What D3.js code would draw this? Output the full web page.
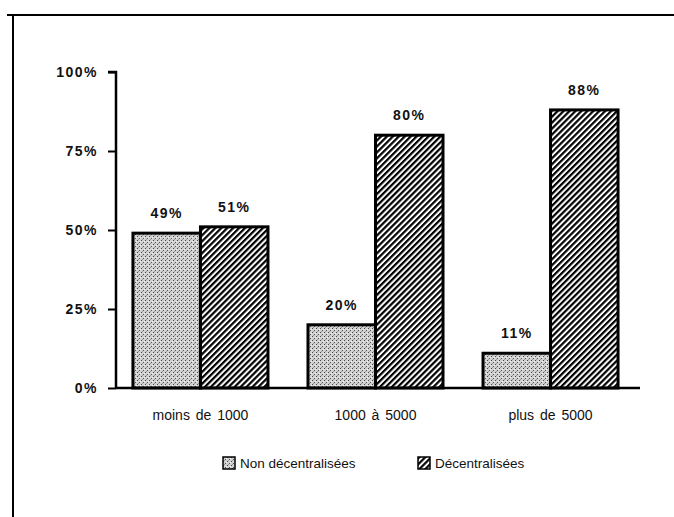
<!DOCTYPE html>
<html>
<head>
<meta charset="utf-8">
<script src="https://cdn.jsdelivr.net/npm/d3@7"></script>
<style>
  body { margin: 0; background: #fff; }
  text { font-family: "Liberation Sans", Arial, sans-serif; fill: #111; }
</style>
</head>
<body>
<svg class="container"></svg>
<script>
const categories = ["moins de 1000", "1000 à 5000", "plus de 5000"];
const series = ["Non décentralisées", "Décentralisées"];
const nonValues = [49, 20, 11];
const decValues = [51, 80, 88];
const yTicks = [0, 25, 50, 75, 100];

const width = 674;
const height = 517;

const svg = d3.select(".container").attr("width", width).attr("height", height);

// patterns
const defs = svg.append("defs");
const dots = defs.append("pattern")
  .attr("id", "dots").attr("patternUnits", "userSpaceOnUse")
  .attr("width", 4).attr("height", 4);
dots.append("rect").attr("width", 4).attr("height", 4).attr("fill", "#d2d2d2");
dots.append("rect").attr("x", 0).attr("y", 0).attr("width", 1).attr("height", 1).attr("fill", "#444");
dots.append("rect").attr("x", 2).attr("y", 2).attr("width", 1).attr("height", 1).attr("fill", "#555");
dots.append("rect").attr("x", 3).attr("y", 1).attr("width", 1).attr("height", 1).attr("fill", "#f4f4f4");
dots.append("rect").attr("x", 1).attr("y", 3).attr("width", 1).attr("height", 1).attr("fill", "#999");

const hatch = defs.append("pattern")
  .attr("id", "hatch").attr("patternUnits", "userSpaceOnUse")
  .attr("width", 4.2).attr("height", 4.2)
  .attr("patternTransform", "rotate(45)");
hatch.append("rect").attr("width", 4.2).attr("height", 4.2).attr("fill", "#fff");
hatch.append("rect").attr("width", 2.2).attr("height", 4.2).attr("fill", "#000");

// frame
svg.append("line").attr("x1", 7).attr("x2", width).attr("y1", 15).attr("y2", 15)
  .attr("stroke", "#000").attr("stroke-width", 2);
svg.append("line").attr("x1", 13).attr("x2", 13).attr("y1", 14).attr("y2", height)
  .attr("stroke", "#000").attr("stroke-width", 2);

const xScale = d3.scaleBand().domain(categories).range([113, 638]).paddingInner(0.2286).paddingOuter(0.114);
const xSub = d3.scaleBand().domain(series).range([0, xScale.bandwidth()]);
const yScale = d3.scaleLinear().domain([0, 100]).range([388, 72]);

// y axis
const yAxis = svg.append("g").attr("transform", "translate(116,0)")
  .call(d3.axisLeft(yScale).tickValues(yTicks).tickSize(8).tickPadding(10).tickFormat(d => d + "%"));
yAxis.select(".domain").attr("stroke", "#000").attr("stroke-width", 2.5).attr("d", "M-8,72H0V388");
yAxis.selectAll(".tick line").attr("stroke", "#000").attr("stroke-width", 2);
yAxis.selectAll(".tick text").attr("font-size", 14).attr("font-weight", "bold")
  .attr("letter-spacing", 1.5).attr("fill", "#111")
  .style("font-family", "'Liberation Sans', Arial, sans-serif");

const rows = categories.map((c, i) => ({ cat: c, values: [nonValues[i], decValues[i]] }));

const groups = svg.selectAll(".grp").data(rows).enter().append("g")
  .attr("transform", d => `translate(${xScale(d.cat)},0)`);

groups.selectAll("rect").data(d => d.values.map((v, j) => ({ s: series[j], v })))
  .enter().append("rect")
  .attr("x", d => xSub(d.s))
  .attr("y", d => yScale(d.v))
  .attr("width", xSub.bandwidth())
  .attr("height", d => yScale(0) - yScale(d.v))
  .attr("fill", d => d.s === series[0] ? "url(#dots)" : "url(#hatch)")
  .attr("stroke", "#000").attr("stroke-width", 3);

groups.selectAll(".val").data(d => d.values.map((v, j) => ({ s: series[j], v })))
  .enter().append("text")
  .attr("x", d => xSub(d.s) + xSub.bandwidth() / 2)
  .attr("y", d => yScale(d.v) - 15)
  .attr("text-anchor", "middle")
  .attr("font-size", 14).attr("font-weight", "bold").attr("letter-spacing", 1.5)
  .text(d => d.v + "%");

// x axis
const xAxis = svg.append("g").attr("transform", "translate(0,388)")
  .call(d3.axisBottom(xScale).tickSize(0).tickPadding(22));
xAxis.select(".domain").attr("stroke", "#000").attr("stroke-width", 2.5).attr("d", "M116,0H640");
xAxis.selectAll(".tick text").attr("font-size", 14).attr("fill", "#111")
  .attr("word-spacing", 2)
  .style("font-family", "'Liberation Sans', Arial, sans-serif");

// legend
const legend = svg.append("g").attr("transform", "translate(223,457)");
const legX = [0, 195];
series.forEach((s, i) => {
  const g = legend.append("g").attr("transform", `translate(${legX[i]},0)`);
  g.append("rect").attr("width", 12).attr("height", 12)
    .attr("fill", i === 0 ? "url(#dots)" : "url(#hatch)")
    .attr("stroke", "#000").attr("stroke-width", 1.5);
  g.append("text").attr("x", 17).attr("y", 11).attr("font-size", 13.5).text(s);
});
</script>
</body>
</html>
